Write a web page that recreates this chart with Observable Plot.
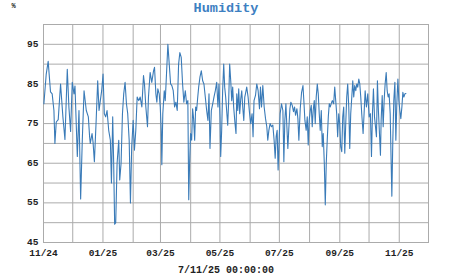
<!DOCTYPE html>
<html>
<head>
<meta charset="utf-8">
<script src="https://cdn.jsdelivr.net/npm/d3@7"></script>
<script src="https://cdn.jsdelivr.net/npm/@observablehq/plot@0.6"></script>
<style>
  html, body { margin: 0; padding: 0; background: #fff; }
</style>
</head>
<body>
<div id="chart"></div>
<script>
const title = "Humidity";
const unitLabel = "%";
const footer = "7/11/25 00:00:00";
const startDate = "2024-11-01";
const endDate = "2025-12-01";
const yTicks = [45, 55, 65, 75, 85, 95];
const yGrid = [45, 50, 55, 60, 65, 70, 75, 80, 85, 90, 95, 100];

// day offsets from startDate
const dayOffset = [
  0.4, 2.8, 4.8, 7.2, 8.9, 10.7, 11.7, 13.1, 15.1, 17.5, 19.9, 22, 24.4, 26.1, 27.8, 29.5, 31.3, 32.3, 34.7, 36.4,
  38.1, 39.8, 41.6, 43.9, 46, 47.3, 48.0, 49.8, 50.8, 52.2, 53.9, 55.6, 57, 58.3, 59.7, 61.1, 62.4, 63.8, 65.2, 66.9,
  68.6, 69.7, 71, 72, 73, 74.1, 75.5, 77.2, 78.2, 79.6, 81, 82.3, 83.7, 85.1, 86.4, 87.9, 89.2, 90.5, 92, 93.3,
  94.7, 96.1, 97.7, 99.2, 100.9, 102.6, 103.6, 105, 106.7, 107.7, 109.4, 111.1, 112.9, 113.9, 115.3, 116.3, 117.3, 118.7, 119.8, 120.8,
  121.4, 122.4, 123.9, 124.9, 126.2, 127.6, 129, 130.4, 131.7, 133.1, 134.5, 135.8, 137.2, 138.6, 139.9, 141.3, 142.7, 144, 145.5, 146.8,
  148.1, 149, 149.9, 150.9, 152, 153, 154, 155.1, 156.1, 157.1, 158.1, 159.2, 160.5, 161.9, 163.3, 164.6, 166, 167.4, 168.7, 169.8,
  170.8, 172.2, 173.6, 174.9, 176.3, 177.7, 179, 180, 181.1, 181.8, 182.8, 183.8, 184.9, 185.9, 186.9, 187.9, 189, 190, 191, 192.1,
  193.1, 194.1, 195.1, 196.5, 197.5, 198.3, 199.3, 200.3, 201.3, 202.4, 203.4, 204.4, 205.5, 206.5, 207.5, 208.5, 209.9, 211.3, 212.6, 214,
  215, 216, 217.5, 218.8, 220.2, 221.6, 222.6, 223.7, 225, 226.4, 227.8, 229.1, 230.1, 231.2, 232.5, 233.9, 235.3, 236.6, 237.7, 238.7,
  239.7, 240.7, 241.8, 242.8, 244.2, 245.6, 246.6, 247.6, 248.7, 249.7, 250.7, 251.7, 252.8, 253.8, 255.2, 256.5, 257.6, 258.6, 260, 261,
  262, 263.4, 264.8, 266.2, 267.2, 268.2, 269.5, 270.6, 271.6, 272.6, 273.7, 274.7, 275.7, 276.7, 277.8, 278.8, 279.8, 280.9, 281.9, 282.9,
  283.9, 285, 286, 287, 288.1, 289.1, 290.1, 291.1, 292.2, 293.2, 294.2, 295.7, 296.3, 297.7, 298.8, 299.8, 300.8, 301.8, 302.9, 303.9,
  304.9, 306, 307, 308, 309.1, 310.1, 311.1, 312.1, 313.2, 314.2, 315.2, 316.3, 317.3, 318.3, 319.3, 320.4, 321.4, 322.4, 323.5, 324.5,
  325.5, 326.5, 327.9, 328.9, 330, 331.3, 332.7, 334.1, 335.4, 336.5, 337.5, 338.5, 339.6, 340.6, 341.6, 342.6, 343.6, 344.7, 345.7, 346.4,
  347.5, 348.5, 349.5, 350.5, 351.6, 352.6, 353.6, 354.6, 355.7, 356.7, 357.4, 358.4, 359.4, 360.5, 361.5, 362.5, 363.6, 364.6, 365.6, 366.6,
  367.7, 368.7, 369.7, 370.8, 371.8
];

const humidity = [
  80, 87.5, 90.7, 83, 82.5, 78.3, 70, 75.4, 76, 85, 76.7, 71, 88.7, 79, 73, 85.4, 82.5, 84.5, 66.7, 78.3,
  56, 70.8, 83.3, 78.3, 76.7, 71.7, 70, 72.5, 70.4, 65.4, 75, 85.8, 78.3, 80.8, 83.3, 87.5, 77.5, 76.7, 78.3, 73.3,
  70.8, 60, 76.7, 65, 49.6, 50, 65, 70.8, 60.8, 65, 77.5, 82.5, 85.4, 80, 77.5, 70.8, 55, 69.2, 75.8, 68.3,
  73.3, 81.7, 80.8, 81.7, 79.2, 87.1, 85, 79.2, 74.2, 81.7, 87.9, 85.4, 88.3, 89.2, 82.5, 80.4, 83.75, 82.5, 79.2, 73.3,
  64.6, 77.5, 83.3, 80.8, 87.5, 95, 90, 85, 84.6, 83.3, 79.2, 80.4, 78.3, 90, 92.9, 91.7, 85, 80.4, 83.3, 80,
  80.8, 55.8, 65, 72.5, 70.8, 78.75, 76.25, 70.8, 79.2, 78.3, 81.25, 84.2, 86.7, 88.3, 85.8, 85, 81.7, 78.3, 75.8, 82.5,
  68.75, 78.3, 80, 81.7, 83.3, 85.4, 79.2, 85, 76.7, 66.7, 73.3, 83.3, 90, 84.2, 81.7, 78.3, 74.6, 80.8, 90, 85.8,
  80.8, 84.2, 79.2, 75, 72.5, 82.5, 78.3, 83.75, 77.5, 81.25, 83.3, 79.2, 75.8, 81.7, 82.9, 84.2, 81.7, 77.9, 75, 77.5,
  71.7, 80.8, 82.1, 85, 83.3, 78.75, 84.2, 79.2, 84.6, 79.2, 76.25, 74.2, 70.8, 73.3, 75, 74.2, 74.6, 70.8, 66.25, 71.7,
  73.3, 63.3, 70.8, 77.5, 80, 78.3, 65.4, 75.8, 80, 74.2, 68.75, 73.75, 78.75, 80.4, 79.6, 78, 79.2, 77.1, 78.75, 76.25,
  70.8, 78.75, 82.9, 84.6, 80.4, 75.8, 73.3, 76.7, 69.6, 75.8, 78.3, 79.6, 74.2, 78.3, 80.8, 75, 81.7, 85, 82.5, 77.5,
  73.3, 78.3, 69.2, 72.5, 65, 54.5, 65, 70.8, 76.7, 80, 79.2, 80.4, 80.8, 80, 84.2, 80.8, 77.5, 71.7, 77.5, 75,
  69.2, 67.9, 76.7, 79.2, 67.5, 75, 81.7, 85, 79.2, 68.75, 77.5, 81.7, 85.8, 81.7, 84.6, 83.3, 85, 84.2, 86.25, 85,
  81.7, 77.5, 72.5, 77.5, 83.3, 79.2, 82.5, 76.7, 77.5, 66.7, 77.5, 83.75, 76.7, 74.2, 71.7, 85.8, 78.3, 72.5, 67, 75.8,
  82.1, 74.2, 80.8, 85, 87.9, 83.3, 81.7, 82.5, 77.5, 65, 56.7, 70.8, 80.8, 85.4, 70.8, 80, 86.25, 80.8, 78.3, 76.25,
  79.2, 82.9, 81.7, 82.5, 82.6
];

const t0 = new Date(startDate + "T00:00:00Z");
const t1 = new Date(endDate + "T00:00:00Z");
const data = dayOffset.map((d, i) => ({date: new Date(+t0 + d * 864e5), value: humidity[i]}));
const monthGrid = d3.utcMonth.range(t0, d3.utcDay.offset(t1, 1));
const xLabelTicks = d3.utcMonth.every(2).range(t0, d3.utcDay.offset(t1, 1));

const gridColor = "#ababab";
const font = "'Liberation Mono', 'DejaVu Sans Mono', monospace";

const chart = Plot.plot({
  width: 451,
  height: 275,
  marginLeft: 43,
  marginRight: 23,
  marginTop: 24,
  marginBottom: 33,
  style: {fontFamily: font, fontSize: "9.5px", fontWeight: "bold", color: "#222", background: "#fff"},
  x: {type: "utc", domain: [t0, t1]},
  y: {domain: [45, 100]},
  marks: [
    Plot.gridX(monthGrid, {stroke: gridColor, strokeOpacity: 1, strokeWidth: 1}),
    Plot.gridY(yGrid, {stroke: gridColor, strokeOpacity: 1, strokeWidth: 1}),
    Plot.frame({stroke: gridColor, strokeWidth: 1}),
    Plot.axisX(xLabelTicks, {tickSize: 0, tickPadding: 7, tickFormat: d3.utcFormat("%m/%y"), label: null, fill: "#222"}),
    Plot.axisY(yTicks, {tickSize: 0, tickPadding: 5, dy: -0.5, label: null, fill: "#222"}),
    Plot.line(data, {x: "date", y: "value", stroke: "#3a7bb8", strokeWidth: 1.1, curve: "linear"}),
    Plot.text([title], {frameAnchor: "top", lineAnchor: "bottom", dx: -10, dy: -13, fontSize: 13.5, fontWeight: "bold", fill: "#3d80c2"}),
    Plot.text([unitLabel], {frameAnchor: "top-left", lineAnchor: "bottom", textAnchor: "middle", dx: -30, dy: -17, fontSize: 7, fill: "#222"}),
    Plot.text([footer], {frameAnchor: "bottom", lineAnchor: "bottom", dx: -10, dy: 30, fontSize: 10, fill: "#222"})
  ]
});
document.getElementById("chart").appendChild(chart);
</script>
</body>
</html>
